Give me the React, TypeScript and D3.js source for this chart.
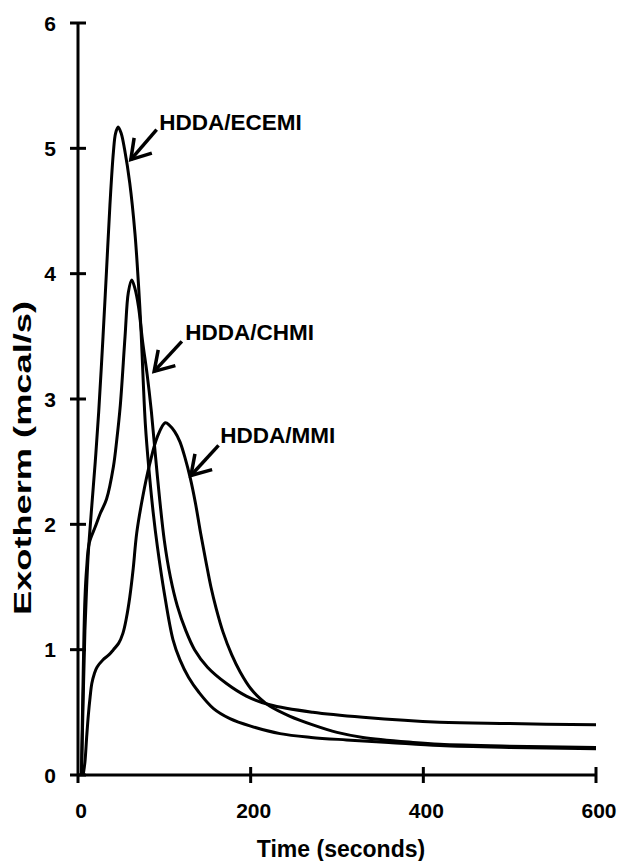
import React from "react";
import * as d3 from "d3";

// ---- data ----
const timeECEMI = [4, 6, 8, 10, 12, 16, 20, 24, 29, 33, 37, 41, 43.5, 46.5, 50, 54, 60, 66, 70, 73, 75.5, 78, 82, 87, 92, 100, 110, 118, 128, 140, 157, 176, 200, 234, 270, 311, 360, 419, 500, 600];
const exoECEMI = [0, 0.6, 1.15, 1.5, 1.78, 2.15, 2.5, 2.9, 3.5, 4.02, 4.55, 4.97, 5.12, 5.17, 5.12, 4.99, 4.72, 4.32, 3.92, 3.55, 3.15, 2.8, 2.45, 2.1, 1.82, 1.45, 1.08, 0.92, 0.78, 0.66, 0.53, 0.45, 0.39, 0.33, 0.3, 0.28, 0.26, 0.235, 0.22, 0.21];

const timeCHMI = [4, 6, 8, 10, 13, 20, 26, 33, 41, 45, 49, 54.5, 58.3, 62.2, 66, 70, 75, 80, 85, 92, 100, 107, 115, 125, 135, 150, 172, 195, 222, 272, 330, 419, 500, 600];
const exoCHMI = [0, 0.8, 1.4, 1.65, 1.85, 1.98, 2.09, 2.2, 2.46, 2.68, 2.95, 3.5, 3.85, 3.95, 3.88, 3.74, 3.45, 3.2, 2.9, 2.38, 1.87, 1.58, 1.35, 1.15, 1.0, 0.86, 0.73, 0.63, 0.56, 0.5, 0.46, 0.42, 0.41, 0.4];

const timeMMI = [6, 8, 10, 12, 14, 16, 19, 22, 29, 36, 41, 47, 52, 56, 60, 64, 68, 75, 83, 92, 101, 106, 112, 118, 124, 130, 136, 142, 148, 154, 160, 168, 178, 188, 200, 211, 222, 245, 272, 300, 330, 388, 419, 500, 600];
const exoMMI = [0, 0.1, 0.3, 0.48, 0.62, 0.73, 0.81, 0.86, 0.92, 0.96, 1.0, 1.05, 1.13, 1.25, 1.42, 1.65, 1.93, 2.22, 2.48, 2.7, 2.81, 2.79, 2.74, 2.66, 2.53, 2.37, 2.17, 1.93, 1.71, 1.5, 1.33, 1.14, 0.96, 0.82, 0.69, 0.61, 0.55, 0.47, 0.4, 0.34, 0.3, 0.26, 0.245, 0.23, 0.22];

const xTicks = [0, 200, 400, 600];
const yTicks = [0, 1, 2, 3, 4, 5, 6];

const seriesNames = ["HDDA/ECEMI", "HDDA/CHMI", "HDDA/MMI"];
// annotation arrows (data coordinates)
const arrowTipT = [61.2, 88.2, 130.8];
const arrowTipV = [4.91, 3.22, 2.39];
const arrowTailT = [91.1, 120.3, 162.8];
const arrowTailV = [5.15, 3.46, 2.63];
const labelT = [94, 124.2, 164.8];
const labelV = [5.15, 3.47, 2.65];

const xLabel = "Time (seconds)";
const yLabel = "Exotherm (mcal/s)";

const FONT = "'Liberation Sans', Arial, Helvetica, sans-serif";

export default function App() {
  const W = 619;
  const H = 861;
  const x = d3.scaleLinear().domain([0, 600]).range([78, 596]);
  const y = d3.scaleLinear().domain([0, 6]).range([775, 23]);

  const line = d3
    .line<[number, number]>()
    .x((d) => x(d[0]))
    .y((d) => y(d[1]))
    .curve(d3.curveCatmullRom.alpha(0.5));

  const series = [
    d3.zip(timeECEMI, exoECEMI) as [number, number][],
    d3.zip(timeCHMI, exoCHMI) as [number, number][],
    d3.zip(timeMMI, exoMMI) as [number, number][],
  ];

  const x0 = x(0);
  const y0 = y(0);

  const arrows = seriesNames.map((name, i) => {
    const tx = x(arrowTipT[i]);
    const ty = y(arrowTipV[i]);
    const sx = x(arrowTailT[i]);
    const sy = y(arrowTailV[i]);
    const ang = Math.atan2(sy - ty, sx - tx);
    const L = 22;
    const a = (32 * Math.PI) / 180;
    const b1 = [tx + L * Math.cos(ang - a), ty + L * Math.sin(ang - a)];
    const b2 = [tx + L * Math.cos(ang + a), ty + L * Math.sin(ang + a)];
    return { name, tx, ty, sx, sy, b1, b2, lx: x(labelT[i]), ly: y(labelV[i]) };
  });

  return (
    <svg
      width={W}
      height={H}
      viewBox={`0 0 ${W} ${H}`}
      style={{ position: "absolute", left: 0, top: 0, background: "#fff" }}
    >
      <rect x={0} y={0} width={W} height={H} fill="#fff" />
      {/* axes */}
      <g stroke="#000" strokeWidth={3} strokeLinecap="butt">
        <line x1={x0} y1={y(6)} x2={x0} y2={y0 + 8} />
        <line x1={x0} y1={y0} x2={x(600)} y2={y0} />
        {yTicks.map((t) => (
          <line key={"yt" + t} x1={x0 - 8} x2={x0 + 8} y1={y(t)} y2={y(t)} />
        ))}
        {xTicks
          .filter((t) => t > 0)
          .map((t) => (
            <line key={"xt" + t} x1={x(t)} x2={x(t)} y1={y0 - 8} y2={y0 + 8} />
          ))}
      </g>
      <g fontFamily={FONT} fontWeight="bold" fontSize={21} fill="#000">
        {yTicks.map((t) => (
          <text key={"yl" + t} x={x0 - 22} y={y(t) + 7.5} textAnchor="end">
            {t}
          </text>
        ))}
        {xTicks.map((t) => (
          <text key={"xl" + t} x={x(t) + 3} y={818} textAnchor="middle">
            {t}
          </text>
        ))}
      </g>
      <text
        x={341}
        y={857}
        textAnchor="middle"
        fontFamily={FONT}
        fontWeight="bold"
        fontSize={23}
      >
        {xLabel}
      </text>
      <text
        transform={`translate(31,458) rotate(-90)`}
        textAnchor="middle"
        fontFamily={FONT}
        fontWeight="bold"
        fontSize={24}
        textLength={314}
        lengthAdjust="spacingAndGlyphs"
      >
        {yLabel}
      </text>
      {/* curves */}
      <g fill="none" stroke="#000" strokeWidth={3} strokeLinejoin="round">
        {series.map((s, i) => (
          <path key={"s" + i} d={line(s) || ""} />
        ))}
      </g>
      {/* annotations */}
      {arrows.map((a) => (
        <g key={a.name}>
          <g stroke="#000" strokeWidth={3.5} fill="none" strokeLinecap="butt">
            <line x1={a.sx} y1={a.sy} x2={a.tx} y2={a.ty} />
            <polyline
              points={`${a.b1[0]},${a.b1[1]} ${a.tx},${a.ty} ${a.b2[0]},${a.b2[1]}`}
              strokeLinejoin="miter"
            />
          </g>
          <text
            x={a.lx}
            y={a.ly}
            fontFamily={FONT}
            fontWeight="bold"
            fontSize={22.5}
          >
            {a.name}
          </text>
        </g>
      ))}
    </svg>
  );
}
